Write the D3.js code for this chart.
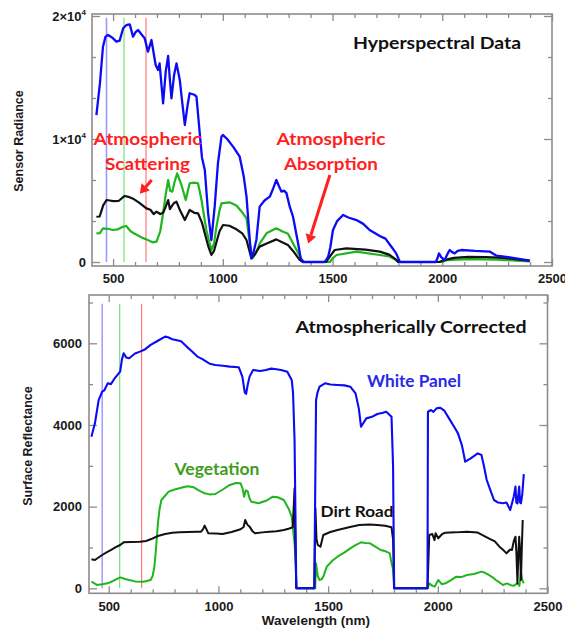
<!DOCTYPE html>
<html><head><meta charset="utf-8">
<script src="https://cdn.jsdelivr.net/npm/d3@7"></script>
<style>html,body{margin:0;padding:0;background:#fff;}svg{display:block;}</style>
</head><body>
<svg id="c" width="565" height="630"></svg>
<script>
// ---------- DATA ----------
const xTickLabels = [500, 1000, 1500, 2000, 2500];
const radianceTicks = [0, 10000, 20000];
const reflectanceTicks = [0, 2000, 4000, 6000];
const bandLines = [470, 550, 650];           // blue, green, red band markers (nm)

// Top panel: sensor radiance [wavelength nm, value]
const radianceWhitePanel = [[424,11950],[440,14500],[454,17500],[465,18300],[477,18460],[492,18300],[505,18100],[515,17910],[530,18000],[546,19000],[560,19250],[576,19320],[591,18320],[603,18700],[614,18860],[630,18500],[644,18200],[659,17100],[675,18050],[694,16020],[705,15610],[712,16150],[728,12900],[740,15500],[751,16750],[758,15000],[766,13310],[778,15200],[789,16150],[804,14800],[815,13000],[827,11140],[840,12800],[849,13720],[870,13600],[880,13440],[895,10460],[905,8500],[918,7480],[933,3980],[948,1790],[963,4500],[978,8050],[994,10200],[1001,10320],[1020,10000],[1050,9300],[1077,8560],[1095,7000],[1108,5310],[1123,1790],[1130,300],[1140,800],[1153,1790],[1168,4500],[1190,5000],[1214,5310],[1230,6000],[1244,6670],[1255,6200],[1267,5720],[1280,5800],[1290,5600],[1305,4500],[1320,3680],[1343,1520],[1355,300],[1366,0],[1464,0],[1472,200],[1480,430],[1490,1200],[1502,2600],[1520,3300],[1548,3820],[1575,3600],[1609,3410],[1640,3100],[1669,2600],[1715,2110],[1741,1900],[1770,1200],[1790,700],[1807,0],[1971,0],[1978,300],[1985,700],[1995,400],[2011,160],[2025,700],[2034,975],[2045,800],[2057,700],[2070,900],[2087,975],[2150,900],[2216,850],[2247,510],[2300,400],[2350,250],[2400,110]];
const radianceDirtRoad = [[424,3680],[439,3700],[455,4600],[470,5040],[485,5000],[500,4950],[525,4960],[553,5370],[570,5300],[591,5150],[620,4800],[652,4360],[670,4250],[685,3900],[698,4090],[715,3900],[728,4000],[740,4500],[751,5040],[759,4300],[766,4500],[778,4800],[789,4900],[805,4200],[827,3410],[849,4230],[870,4000],[887,3960],[905,3200],[918,2330],[935,1200],[948,570],[960,900],[971,1600],[985,2500],[1001,3010],[1030,2950],[1062,2660],[1090,2300],[1108,1790],[1120,1000],[1130,300],[1145,600],[1168,1250],[1200,1500],[1244,1840],[1270,1600],[1297,1380],[1320,900],[1351,160],[1366,0],[1470,0],[1490,500],[1510,975],[1563,1110],[1650,1000],[1715,840],[1758,600],[1790,200],[1799,0],[1985,0],[2004,130],[2053,330],[2119,420],[2200,400],[2283,330],[2350,200],[2398,100]];
const radianceVegetation = [[424,2330],[440,2350],[454,2740],[475,2700],[500,2600],[520,2650],[545,2870],[560,2930],[580,2500],[599,2300],[630,2000],[652,1840],[680,1600],[698,1650],[715,2500],[728,3960],[740,5500],[751,6670],[760,5800],[770,5720],[780,6500],[792,7210],[811,6300],[831,5040],[849,6400],[870,6450],[887,6400],[903,5040],[925,2600],[948,975],[960,1500],[971,2870],[985,4200],[994,4770],[1030,4850],[1062,4600],[1090,4000],[1108,3550],[1123,1520],[1135,300],[1150,700],[1168,1500],[1199,2330],[1244,2740],[1270,2500],[1297,2300],[1336,975],[1359,200],[1370,0],[1488,0],[1500,300],[1518,570],[1609,840],[1715,570],[1758,460],[1785,200],[1799,0],[2000,0],[2020,150],[2119,240],[2250,200],[2398,50]];

// Bottom panel: surface reflectance [wavelength nm, value]
const reflWhitePanel = [[421,3713],[437,4040],[454,4610],[470,4816],[480,4850],[495,5020],[510,5000],[527,5143],[552,5306],[560,5600],[568,5755],[580,5650],[593,5633],[620,5750],[642,5796],[665,5850],[691,5960],[720,6050],[757,6164],[770,6150],[790,6100],[806,6082],[830,6050],[855,5919],[880,5800],[904,5674],[925,5620],[945,5551],[960,5500],[986,5470],[1020,5450],[1052,5429],[1093,5413],[1109,5184],[1120,4800],[1126,4760],[1134,5000],[1142,5184],[1158,5347],[1190,5320],[1216,5347],[1240,5380],[1265,5364],[1290,5340],[1314,5306],[1334,5102],[1340,4800],[1347,3633],[1355,0],[1437,0],[1445,4610],[1452,4800],[1461,4937],[1486,5020],[1510,4990],[1543,4980],[1575,4970],[1601,4937],[1625,4774],[1640,4400],[1650,3957],[1674,4162],[1700,4200],[1724,4268],[1750,4300],[1765,4325],[1789,4203],[1796,3000],[1801,0],[1953,0],[1955,4325],[1969,4366],[1980,4320],[1994,4407],[2010,4423],[2030,4350],[2051,4162],[2075,3950],[2092,3795],[2110,3500],[2125,3101],[2150,3183],[2182,3305],[2199,3265],[2210,3000],[2223,2653],[2240,2400],[2256,2163],[2275,2100],[2297,2082],[2313,2100],[2330,1918],[2346,2245],[2354,2490],[2358,2100],[2363,2082],[2371,2490],[2375,2100],[2379,2082],[2385,2300],[2392,2796]];
const reflVegetation = [[421,162],[446,82],[470,100],[495,122],[520,180],[552,269],[575,230],[593,204],[620,170],[659,162],[691,204],[700,300],[708,530],[716,1000],[724,1592],[732,1950],[740,2163],[773,2367],[800,2420],[839,2473],[860,2500],[888,2473],[910,2400],[937,2327],[960,2300],[986,2310],[1020,2420],[1052,2531],[1080,2580],[1101,2571],[1110,2450],[1117,2245],[1125,2400],[1134,2367],[1142,2200],[1150,2122],[1183,2082],[1220,2150],[1248,2245],[1270,2230],[1298,2163],[1320,1950],[1334,1755],[1347,1102],[1352,612],[1356,0],[1441,0],[1445,612],[1453,300],[1461,204],[1470,220],[1478,286],[1494,530],[1520,680],[1543,775],[1575,880],[1601,979],[1625,1060],[1650,1126],[1670,1110],[1691,1102],[1715,1020],[1740,938],[1765,900],[1781,857],[1789,612],[1795,500],[1801,0],[1953,0],[1961,122],[1975,60],[1986,41],[2002,204],[2018,100],[2035,122],[2060,200],[2084,286],[2110,280],[2133,327],[2165,350],[2199,408],[2215,380],[2232,327],[2250,270],[2264,204],[2280,150],[2297,82],[2315,120],[2330,82],[2345,60],[2363,122],[2372,60],[2379,408],[2385,200],[2392,122]];
const reflDirtRoad = [[421,710],[437,694],[455,760],[470,816],[490,880],[511,939],[530,1000],[552,1061],[568,1126],[600,1135],[642,1143],[670,1160],[691,1200],[724,1282],[757,1331],[790,1360],[822,1371],[860,1380],[900,1385],[921,1388],[930,1450],[937,1535],[945,1450],[954,1347],[990,1340],[1019,1331],[1060,1380],[1101,1445],[1115,1500],[1122,1673],[1132,1560],[1142,1510],[1155,1400],[1167,1347],[1200,1370],[1232,1388],[1265,1400],[1298,1429],[1320,1460],[1339,1494],[1347,2449],[1350,1184],[1355,0],[1437,0],[1442,1959],[1447,1200],[1453,1061],[1465,1020],[1478,1306],[1510,1380],[1543,1429],[1600,1500],[1642,1551],[1690,1560],[1724,1551],[1760,1530],[1789,1494],[1796,1200],[1801,0],[1953,0],[1961,1306],[1975,1330],[1985,1180],[1990,1350],[2002,1225],[2020,1330],[2035,1363],[2080,1370],[2133,1388],[2182,1365],[2232,1225],[2260,1150],[2281,1020],[2300,930],[2313,857],[2330,950],[2338,939],[2346,1150],[2354,1265],[2358,900],[2363,122],[2367,800],[2371,1265],[2375,900],[2379,204],[2383,1000],[2387,1673]];

// ---------- STYLE ----------
const C = {blue:"#0b0bf5", green:"#1fb51f", black:"#111111", frame:"#8c8c8c", red:"#ff1f1f",
  bandColors:["#9a9aff","#9aea9a","#ff9a9a"], bandColorsB:["#7878ff","#6fdc6f","#ff6a6a"]};
const tickFont = "'Liberation Sans', Arial, sans-serif";
const annFont = "Lato, 'Open Sans', sans-serif";

const svg = d3.select("#c");
svg.append("rect").attr("width",565).attr("height",630).attr("fill","#fff");

function drawPanel(p) {
  const x = d3.scaleLinear().domain(p.xDom).range(p.xRange);
  const y = d3.scaleLinear().domain(p.yDom).range(p.yRange);
  const g = svg.append("g");
  const [x0,x1] = p.xRange, [yb,yt] = p.yRange;

  bandLines.forEach((b,i) => {
    g.append("line").attr("x1",x(b)).attr("x2",x(b)).attr("y1",y(p.bandTop)).attr("y2",y(0))
      .attr("stroke",p.bandColors[i]).attr("stroke-width",p.bandWidth);
  });

  g.append("rect").attr("x",x0).attr("y",yt).attr("width",x1-x0).attr("height",yb-yt)
    .attr("fill","none").attr("stroke",C.frame).attr("stroke-width",1.6);

  const xMinor = d3.range(500,2500,100).filter(v=>v%500!==0 && v>p.xDom[0]);
  const style = s => { s.select(".domain").remove(); s.selectAll(".tick line").attr("stroke",C.frame).attr("stroke-width",1.3); };

  g.append("g").attr("transform",`translate(0,${yb})`)
    .call(d3.axisBottom(x).tickValues(xTickLabels).tickSize(-7).tickPadding(8).tickFormat(d3.format("d")))
    .call(style)
    .call(s=>s.selectAll("text").attr("font-family",tickFont).attr("font-weight","bold").attr("font-size",13).attr("fill","#1a1a1a"));
  g.append("g").attr("transform",`translate(0,${yb})`).call(d3.axisBottom(x).tickValues(xMinor).tickSize(-4).tickFormat("")).call(style);
  g.append("g").attr("transform",`translate(0,${yt})`).call(d3.axisTop(x).tickValues(xTickLabels).tickSize(-7).tickFormat("")).call(style);
  g.append("g").attr("transform",`translate(0,${yt})`).call(d3.axisTop(x).tickValues(xMinor).tickSize(-4).tickFormat("")).call(style);

  const yMinor = p.yMinor;
  g.append("g").attr("transform",`translate(${x0},0)`).call(d3.axisLeft(y).tickValues(p.yTicks).tickSize(-8).tickFormat("")).call(style);
  g.append("g").attr("transform",`translate(${x0},0)`).call(d3.axisLeft(y).tickValues(yMinor).tickSize(-4).tickFormat("")).call(style);
  g.append("g").attr("transform",`translate(${x1},0)`).call(d3.axisRight(y).tickValues(p.yTicks).tickSize(-8).tickFormat("")).call(style);
  g.append("g").attr("transform",`translate(${x1},0)`).call(d3.axisRight(y).tickValues(yMinor).tickSize(-4).tickFormat("")).call(style);

  p.yTicks.forEach(v => {
    const t = g.append("text").attr("x",x0-p.yLabelGap).attr("y",y(v)+4.6).attr("text-anchor","end")
      .attr("font-family",tickFont).attr("font-weight","bold").attr("font-size",13).attr("fill","#1a1a1a");
    if (p.sci && v !== 0) {
      t.append("tspan").text((v/10000) + "\u00d710");
      t.append("tspan").attr("font-size",8).attr("dy",-6).text("4");
    } else t.text(v);
  });

  const line = d3.line().x(d=>x(d[0])).y(d=>y(d[1]));
  p.series.forEach(s => {
    g.append("path").datum(s.data).attr("d",line).attr("fill","none").attr("stroke",s.color)
      .attr("stroke-width",s.width).attr("stroke-linejoin","round");
  });
  return {x,y,g};
}

const topP = drawPanel({
  xDom:[404,2500], xRange:[92,552], yDom:[-325,20163], yRange:[266,14],
  yTicks: radianceTicks, yMinor:[10000/3,20000/3,40000/3,50000/3], sci:true, yLabelGap:6,
  bandTop:19850, bandColors:C.bandColors, bandWidth:1.6,
  series:[{data:radianceVegetation,color:C.green,width:2.2},{data:radianceDirtRoad,color:C.black,width:2.2},{data:radianceWhitePanel,color:C.blue,width:2.3}]
});

const botP = drawPanel({
  xDom:[410,2500], xRange:[89,547.5], yDom:[-122,7183], yRange:[593.3,295],
  yTicks: reflectanceTicks, yMinor:[1000,3000,5000,7000], sci:false, yLabelGap:7,
  bandTop:6970, bandColors:C.bandColorsB, bandWidth:1.1,
  series:[{data:reflVegetation,color:C.green,width:2},{data:reflDirtRoad,color:C.black,width:2},{data:reflWhitePanel,color:C.blue,width:2.1}]
});

function axisTitle(txt, cx, cy, rot) {
  svg.append("text").attr("transform",`translate(${cx},${cy}) rotate(${rot})`).attr("text-anchor","middle")
    .attr("font-family",tickFont).attr("font-weight","bold").attr("font-size",12.5).attr("fill","#1a1a1a").text(txt);
}
axisTitle("Sensor Radiance", 23, 141, -90);
axisTitle("Surface Reflectance", 32, 446, -90);
svg.append("text").attr("x",316).attr("y",625).attr("text-anchor","middle").attr("font-family",tickFont)
  .attr("font-weight","bold").attr("font-size",13.5).attr("fill","#1a1a1a").text("Wavelength (nm)");

function ann(txt, cx, base, w, color, size) {
  svg.append("text").attr("x",cx).attr("y",base).attr("text-anchor","middle").attr("font-family",annFont)
    .attr("font-weight","bold").attr("font-size",size||17).attr("fill",color)
    .attr("textLength",w).attr("lengthAdjust","spacingAndGlyphs").text(txt);
}
ann("Hyperspectral Data", 437, 48.5, 168, "#111");
ann("Atmospheric", 147.5, 145, 108, C.red);
ann("Scattering", 147.5, 170, 85, C.red);
ann("Atmospheric", 331, 145, 109, C.red);
ann("Absorption", 331, 170, 94, C.red);
ann("Atmospherically Corrected", 411, 333, 231, "#111");
ann("White Panel", 414, 387, 94, "#2a2ae6");
ann("Vegetation", 217, 475, 85, "#3f9c1c");
ann("Dirt Road", 357, 517, 73, "#111", 16);

function arrow(p, from, to) {
  const x1 = p.x(from[0]), y1 = p.y(from[1]), x2 = p.x(to[0]), y2 = p.y(to[1]);
  const a = Math.atan2(y2-y1, x2-x1), L = 9, W = 5.5;
  const bx = x2 - L*Math.cos(a), by = y2 - L*Math.sin(a);
  svg.append("line").attr("x1",x1).attr("y1",y1).attr("x2",bx).attr("y2",by)
    .attr("stroke",C.red).attr("stroke-width",3);
  svg.append("path").attr("d",`M${x2},${y2}L${bx+W*Math.sin(a)},${by-W*Math.cos(a)}L${bx-W*Math.sin(a)},${by+W*Math.cos(a)}Z`)
    .attr("fill",C.red);
}
arrow(topP, [676,6670], [622,5550]);
arrow(topP, [1488,7070], [1389,1500]);
</script>
</body></html>
